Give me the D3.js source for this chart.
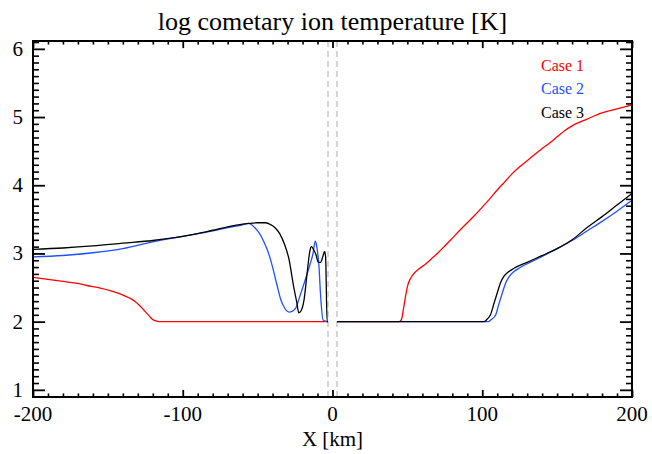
<!DOCTYPE html>
<html><head><meta charset="utf-8">
<script src="https://cdn.jsdelivr.net/npm/d3@7"></script>
<style>
html,body{margin:0;padding:0;background:#fff;}
svg{display:block;}
text{font-family:"Liberation Serif","Times New Roman",serif;}
</style></head>
<body>
<svg id="chart" width="652" height="454"></svg>
<script>
// ---- data ----
const titleText = "log cometary ion temperature [K]";
const xLabelText = "X [km]";
const xTicks = [-200, -100, 0, 100, 200];
const yTicks = [1, 2, 3, 4, 5, 6];
const caseNames = ["Case 1", "Case 2", "Case 3"];
const caseColors = ["#ff0000", "#1f50ff", "#000000"];
const dashX = [-3, 3];

const x1 = [-200,-190,-180,-170,-164,-155,-148,-141,-136,-132,-129,-126,-123,-120.5,-118,-116,-3,null,3,44.5,46,47.5,49,50.5,52,54.5,58,62,66,70,75,79,85,90,95,100,105,110,115,120,125,130,135,140,145,150,155,160,170,180,190,200];
const y1 = [2.65,2.62,2.59,2.56,2.53,2.49,2.45,2.40,2.35,2.30,2.24,2.17,2.10,2.04,2.01,2.00,2.00,null,2.00,2.00,2.03,2.20,2.40,2.55,2.63,2.71,2.78,2.84,2.92,3.00,3.11,3.20,3.34,3.45,3.56,3.68,3.80,3.93,4.05,4.17,4.27,4.36,4.45,4.54,4.62,4.71,4.80,4.87,4.97,5.06,5.12,5.18];

const x2 = [-200,-180,-160,-140,-120,-100,-80,-70,-60,-56,-52,-49,-46,-43.5,-41,-39,-37,-34.5,-32,-29,-27,-24.5,-22,-19,-15,-13,-11.5,-10.5,-9,-8,-6.2,-3,null,3,104,106,109,111,113.4,115.5,118,121,125,135,143,150,160,170,180,190,200];
const y2 = [2.95,2.97,3.01,3.07,3.17,3.25,3.33,3.38,3.42,3.44,3.38,3.30,3.18,3.05,2.88,2.71,2.53,2.32,2.20,2.14,2.15,2.20,2.36,2.56,2.84,3.00,3.18,3.10,2.80,2.40,2.02,2.00,null,2.00,2.00,2.03,2.10,2.25,2.42,2.56,2.66,2.73,2.79,2.90,2.99,3.07,3.19,3.33,3.47,3.62,3.78];

const x3 = [-200,-180,-160,-140,-120,-100,-90,-80,-70,-60,-50,-45,-42,-38,-35,-32,-29,-26,-24,-22.5,-21,-19,-17,-15,-14,-12.5,-11,-9.5,-8,-6.5,-5.3,-4.6,-3.6,-3,null,3,101,103,105.5,108,110,112,114,117,121,130,139,150,160,170,180,190,200];
const y3 = [3.06,3.08,3.11,3.15,3.19,3.25,3.29,3.34,3.39,3.43,3.45,3.45,3.43,3.37,3.28,3.13,2.91,2.52,2.30,2.13,2.16,2.32,2.70,3.05,3.10,3.05,2.98,2.87,2.87,2.95,3.03,2.95,2.00,2.00,null,2.00,2.00,2.03,2.10,2.28,2.42,2.56,2.65,2.72,2.78,2.87,2.96,3.07,3.20,3.38,3.54,3.71,3.88];

const seriesX = [x1, x2, x3];
const seriesY = [y1, y2, y3];

// ---- layout ----
const L = 33, R = 632, T = 41, B = 397;
const svg = d3.select("#chart");
const x = d3.scaleLinear().domain([-200, 200]).range([L, R]);
const y = d3.scaleLinear().domain([0.895, 6.115]).range([B, T]);

const xMinor = d3.range(-200, 201, 10).filter(v => !xTicks.includes(v));
const yMinor = d3.range(9, 62, 1).map(v => v / 10).filter(v => !yTicks.includes(v));

const W = R - L, H = B - T;
const xMaj = 0.02 * H, yMaj = 0.02 * W;

function axisG(axis, tx, ty, sw) {
  const g = svg.append("g").attr("transform", `translate(${tx},${ty})`).call(axis);
  g.select(".domain").remove();
  g.selectAll("text").remove();
  g.selectAll("line").attr("stroke", "#000").attr("stroke-width", sw);
  return g;
}
// bottom & top
axisG(d3.axisBottom(x).tickValues(xTicks).tickSize(-xMaj), 0, B, 1.8);
axisG(d3.axisBottom(x).tickValues(xMinor).tickSize(-xMaj / 2), 0, B, 1.6);
axisG(d3.axisTop(x).tickValues(xTicks).tickSize(-xMaj), 0, T, 1.8);
axisG(d3.axisTop(x).tickValues(xMinor).tickSize(-xMaj / 2), 0, T, 1.6);
// left & right
axisG(d3.axisLeft(y).tickValues(yTicks).tickSize(-yMaj), L, 0, 1.8);
axisG(d3.axisLeft(y).tickValues(yMinor).tickSize(-yMaj / 2), L, 0, 1.6);
axisG(d3.axisRight(y).tickValues(yTicks).tickSize(-yMaj), R, 0, 1.8);
axisG(d3.axisRight(y).tickValues(yMinor).tickSize(-yMaj / 2), R, 0, 1.6);

// dashed lines
svg.selectAll("line.dash").data(dashX).enter().append("line")
  .attr("class", "dash")
  .attr("x1", d => x(d)).attr("x2", d => x(d))
  .attr("y1", T).attr("y2", B)
  .attr("stroke", "#aaaaaa").attr("stroke-width", 1)
  .attr("stroke-dasharray", "6,4");

// curves
const line = d3.line()
  .defined(d => d[0] !== null && d[1] !== null)
  .x(d => x(d[0])).y(d => y(d[1]))
  .curve(d3.curveMonotoneX);

seriesX.forEach((xs, i) => {
  const pts = xs.map((v, j) => [v, seriesY[i][j]]);
  svg.append("path").datum(pts)
    .attr("fill", "none")
    .attr("stroke", caseColors[i])
    .attr("stroke-width", 1.3)
    .attr("stroke-linejoin", "round")
    .attr("d", line);
});

// frame
svg.append("rect").attr("x", L).attr("y", T).attr("width", W).attr("height", H)
  .attr("fill", "none").attr("stroke", "#000").attr("stroke-width", 2);

// tick labels
svg.selectAll("text.xl").data(xTicks).enter().append("text")
  .attr("x", d => x(d)).attr("y", 421)
  .attr("text-anchor", "middle").attr("font-size", 21)
  .text(d => d);
svg.selectAll("text.yl").data(yTicks).enter().append("text")
  .attr("x", 23).attr("y", d => y(d) + 7)
  .attr("text-anchor", "end").attr("font-size", 21)
  .text(d => d);

// axis title & title
svg.append("text").attr("x", (L + R) / 2).attr("y", 446)
  .attr("text-anchor", "middle").attr("font-size", 21).text(xLabelText);
svg.append("text").attr("x", (L + R) / 2).attr("y", 30)
  .attr("text-anchor", "middle").attr("font-size", 26).text(titleText);

// legend
svg.selectAll("text.leg").data(caseNames).enter().append("text")
  .attr("x", 541).attr("y", (d, i) => 71 + i * 23.3)
  .attr("font-size", 16)
  .attr("fill", (d, i) => caseColors[i])
  .text(d => d);
</script>
</body></html>
